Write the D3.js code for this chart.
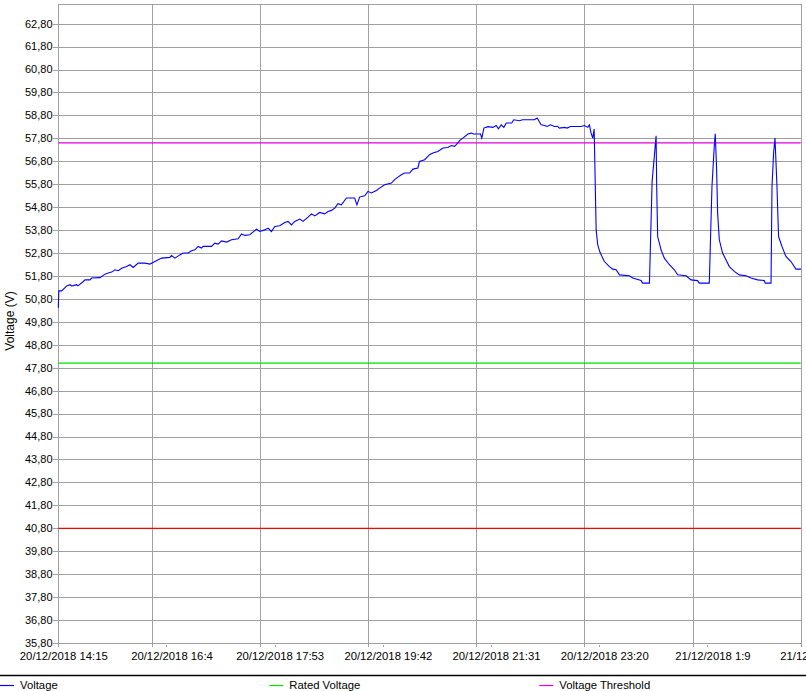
<!DOCTYPE html>
<html>
<head>
<meta charset="utf-8">
<script src="https://cdn.jsdelivr.net/npm/d3@7"></script>
<style>
  body { margin: 0; background: #fff; }
  svg { display: block; font-family: "Liberation Sans", Arial, sans-serif; }
</style>
</head>
<body>
<div id="chart"></div>
<script>
// x axis labels (as printed) and the time the series starts
var tickLabels = ["20/12/2018 14:15", "20/12/2018 16:4", "20/12/2018 17:53", "20/12/2018 19:42",
                  "20/12/2018 21:31", "20/12/2018 23:20", "21/12/2018 1:9", "21/12/2018 2:58"];
var startTime = "20/12/2018 14:30";
var endTime = "21/12/2018 2:58";
var labelLagMin = 15;

// y axis
var yTicks = d3.range(0, 28).map(function (i) { return +(35.8 + i).toFixed(2); });
var yMin = 35.8, yMax = 63.68;

// reference lines
var ratedVoltage = 48.0;
var voltageThreshold = 57.6;
var lowLimit = 40.8;

// voltage series: minutes after startTime, volts
var voltMinutes = [0,0.5,3.4,8.5,11.8,13.5,15.1,18.5,19.8,25.2,
  26.9,31.9,33.6,42.0,47.0,50.3,53.7,57.1,60.4,63.8,
  68.8,72.2,75.5,80.5,87.3,92.3,97.3,104.1,112.4,114.1,
  117.5,122.5,125.8,130.8,134.3,137.6,140.9,144.3,145.9,154.4,
  157.7,161.0,164.5,169.5,174.5,181.2,184.6,187.9,192.9,199.7,
  203.0,208.0,211.4,214.8,218.1,223.1,228.2,231.5,234.9,238.2,
  243.3,246.6,251.6,255.1,258.4,263.4,268.4,271.7,275.2,278.5,
  281.8,285.2,290.3,298.6,300.9,303.6,308.7,312.0,315.4,320.5,
  323.8,328.8,335.6,338.9,342.2,345.6,349.0,354.0,357.3,362.3,
  363.9,369.1,374.1,377.4,382.4,387.5,392.5,395.9,399.3,402.6,
  404.3,407.6,412.7,416.1,418.4,425.4,426.7,428.8,432.8,437.8,
  441.2,443.5,446.3,448.9,451.3,456.9,458.9,464.7,467.7,479.8,
  482.5,486.5,489.9,492.6,495.9,499.9,503.2,504.9,510.0,512.7,
  516.0,526.8,530.1,533.4,535.1,536.8,538.5,539.9,541.9,543.5,
  545.9,550.2,555.3,558.6,562.0,565.4,575.4,578.8,587.2,588.8,
  595.6,598.3,602.3,602.9,603.9,607.3,610.6,615.7,620.7,624.0,
  632.5,637.5,644.1,645.8,655.9,658.6,660.9,661.9,663.3,664.3,
  666.0,669.3,672.7,676.1,681.1,686.1,692.9,697.9,704.6,711.3,
  712.3,718.1,719.1,720.7,722.1,724.1,725.7,729.1,733.1,738.2,
  743.2,748.3];
var voltValues = [50.41,51.15,51.15,51.37,51.42,51.37,51.38,51.42,51.37,51.56,
  51.63,51.63,51.71,51.73,51.88,51.93,51.97,52.07,52.03,52.14,
  52.21,52.29,52.17,52.36,52.36,52.32,52.43,52.58,52.61,52.69,
  52.58,52.72,52.80,52.80,52.90,52.94,53.09,53.02,53.09,53.09,
  53.23,53.19,53.33,53.28,53.38,53.42,53.63,53.57,53.60,53.84,
  53.74,53.81,53.89,53.74,53.96,53.99,54.13,54.18,54.03,54.18,
  54.28,54.18,54.37,54.51,54.42,54.57,54.51,54.61,54.66,54.76,
  54.95,54.90,55.20,55.20,54.90,55.24,55.30,55.49,55.42,55.53,
  55.63,55.78,55.85,56.00,56.11,56.21,56.29,56.29,56.46,56.51,
  56.79,56.87,57.09,57.16,57.23,57.38,57.40,57.49,57.45,57.60,
  57.70,57.81,57.99,58.03,57.99,57.99,57.81,58.25,58.31,58.28,
  58.36,58.22,58.39,58.28,58.47,58.47,58.61,58.57,58.61,58.61,
  58.69,58.39,58.36,58.32,58.39,58.32,58.32,58.25,58.28,58.25,
  58.32,58.32,58.36,58.28,58.39,58.03,57.81,58.21,53.81,53.16,
  52.82,52.43,52.21,52.10,52.07,51.85,51.81,51.71,51.60,51.49,
  51.49,55.92,57.91,55.70,53.52,52.94,52.58,52.29,52.07,51.85,
  51.81,51.63,51.60,51.49,51.49,55.70,57.45,58.00,56.43,54.54,
  53.38,52.80,52.51,52.21,52.00,51.85,51.81,51.71,51.63,51.60,
  51.49,51.49,55.70,57.16,57.81,55.70,53.52,53.09,52.65,52.43,
  52.10,52.10];

var legendNames = ["Voltage", "Rated Voltage", "Voltage Threshold"];
var legendColors = ["#0000ff", "#00e000", "#e000e0"];

var W = 806, H = 691;
var plot = { left: 58.3, right: 800.7, top: 3.5, bottom: 643 };

var parseTime = d3.timeParse("%d/%m/%Y %H:%M");
var t0 = parseTime(startTime);
var tEnd = parseTime(endTime);

var data = voltMinutes.map(function (m, i) {
    return { t: d3.timeMinute.offset(t0, 0) .getTime() + m * 60000, v: voltValues[i] };
});

var x = d3.scaleTime().domain([t0, tEnd]).range([plot.left, plot.right]);
var y = d3.scaleLinear().domain([yMin, yMax]).range([plot.bottom, plot.top]);

var svg = d3.select("#chart").append("svg").attr("width", W).attr("height", H);

var grid = svg.append("g").attr("stroke", "#a0a0a0").attr("stroke-width", 1)
    .attr("shape-rendering", "crispEdges");

// horizontal grid lines + y ticks
yTicks.forEach(function (v) {
    var yy = Math.round(y(v)) + 0.5;
    grid.append("line").attr("x1", plot.left - 5).attr("x2", plot.right).attr("y1", yy).attr("y2", yy);
});
// top border
grid.append("line").attr("x1", plot.left).attr("x2", plot.right)
    .attr("y1", Math.round(plot.top) + 0.5).attr("y2", Math.round(plot.top) + 0.5);
// left axis
grid.append("line").attr("x1", Math.round(plot.left) + 0.5).attr("x2", Math.round(plot.left) + 0.5)
    .attr("y1", plot.top).attr("y2", plot.bottom + 4);

// vertical grid lines at label times, labels at lagged times
var tickTimes = tickLabels.map(function (s) { return parseTime(s); });
tickTimes.forEach(function (t) {
    if (t < t0 || t > tEnd) return;
    var xx = Math.round(x(t)) + 0.5;
    grid.append("line").attr("x1", xx).attr("x2", xx).attr("y1", plot.top).attr("y2", plot.bottom + 4);
});
tickTimes.forEach(function (t) {
    var lt = d3.timeMinute.offset(t, labelLagMin);
    var xx = Math.round(x(lt)) + 0.5;
    grid.append("line").attr("x1", xx).attr("x2", xx).attr("y1", plot.bottom + 2).attr("y2", plot.bottom + 4);
});

// y tick labels
svg.append("g").selectAll("text").data(yTicks).join("text")
    .attr("x", 52.5).attr("y", function (d) { return y(d); })
    .attr("dy", "0.35em").attr("text-anchor", "end")
    .style("font-size", "11px").attr("fill", "#000")
    .text(function (d) { return d.toFixed(2).replace(".", ","); });

// x tick labels
svg.append("g").selectAll("text").data(tickLabels).join("text")
    .attr("x", function (d, i) { return x(d3.timeMinute.offset(tickTimes[i], labelLagMin)) + 5.5; })
    .attr("y", 660).attr("text-anchor", "middle")
    .style("font-size", "11.3px").attr("fill", "#000")
    .text(function (d) { return d; });

// y axis title
svg.append("text")
    .attr("transform", "translate(14," + 321 + ") rotate(-90)")
    .attr("text-anchor", "middle")
    .style("font-size", "12px")
    .text("Voltage (V)");

// reference lines
svg.append("line").attr("x1", plot.left).attr("x2", plot.right)
    .attr("y1", y(lowLimit)).attr("y2", y(lowLimit))
    .attr("stroke", "#ff0000").attr("stroke-width", 1.2);
svg.append("line").attr("x1", plot.left).attr("x2", plot.right)
    .attr("y1", y(ratedVoltage)).attr("y2", y(ratedVoltage))
    .attr("stroke", legendColors[1]).attr("stroke-width", 1.2);
svg.append("line").attr("x1", plot.left).attr("x2", plot.right)
    .attr("y1", y(voltageThreshold)).attr("y2", y(voltageThreshold))
    .attr("stroke", legendColors[2]).attr("stroke-width", 1.2);

// voltage series
var line = d3.line()
    .x(function (d) { return x(d.t); })
    .y(function (d) { return y(d.v); });
svg.append("path").datum(data)
    .attr("fill", "none")
    .attr("stroke", legendColors[0])
    .attr("stroke-width", 1.1)
    .attr("d", line);

// legend
svg.append("line").attr("x1", 0).attr("x2", W).attr("y1", 675.5).attr("y2", 675.5)
    .attr("stroke", "#000").attr("stroke-width", 1.5);
var legendX = [0, 269.3, 539.3];
var lg = svg.append("g").selectAll("g").data(legendNames).join("g")
    .attr("transform", function (d, i) { return "translate(" + legendX[i] + ",685)"; });
lg.append("line").attr("x1", 0).attr("x2", 14).attr("y1", 0.5).attr("y2", 0.5)
    .attr("stroke", function (d, i) { return legendColors[i]; }).attr("stroke-width", 1.2);
lg.append("text").attr("x", 20).attr("y", 0).attr("dy", "0.35em")
    .style("font-size", "11.3px").text(function (d) { return d; });
</script>
</body>
</html>
